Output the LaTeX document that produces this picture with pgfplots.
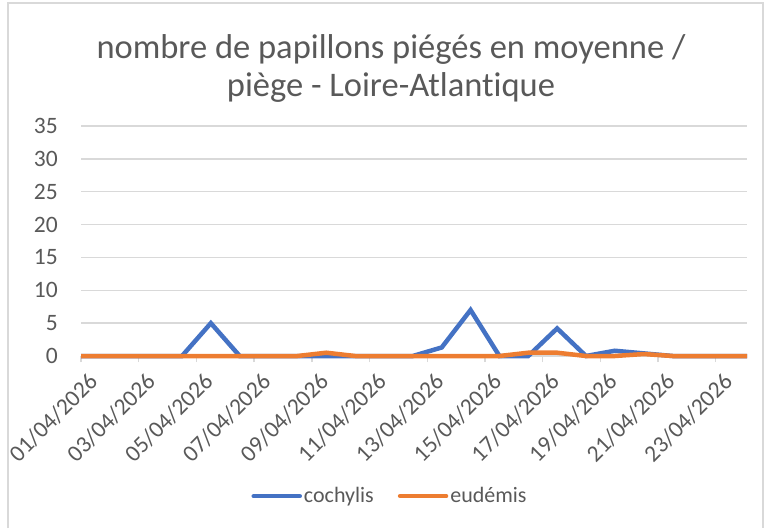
\documentclass[border=0pt]{standalone}
\usepackage{fontspec}
\setmainfont{Carlito}[Ligatures={NoCommon}]
\usepackage{pgfplots}
\pgfplotsset{compat=1.18}
\definecolor{cblue}{RGB}{68,114,196}
\definecolor{corange}{RGB}{237,125,49}
\definecolor{textgray}{RGB}{89,89,89}
\definecolor{gridgray}{RGB}{217,217,217}
\begin{document}
\begin{tikzpicture}
\path[use as bounding box] (0pt,0pt) rectangle (767pt,528pt);
\draw[gridgray, line width=2pt] (8pt,0pt) -- (8pt,525pt) -- (763pt,525pt) -- (763pt,0pt);
\node[font=\fontsize{34.5}{38}\selectfont, text=textgray, align=center] at (391pt,460pt)
  {nombre de papillons piégés en moyenne /\\piège - Loire-Atlantique};
\begin{axis}[
  at={(81pt,172pt)}, anchor=south west,
  scale only axis, width=666pt, height=230pt,
  xmin=0, xmax=23.08, ymin=0, ymax=35,
  ytick={0,5,...,35},
  xtick={0,2,...,22},
  xticklabels={01/04/2026,03/04/2026,05/04/2026,07/04/2026,09/04/2026,11/04/2026,13/04/2026,15/04/2026,17/04/2026,19/04/2026,21/04/2026,23/04/2026},
  /pgf/number format/assume math mode=true,
  axis x line*=bottom, axis y line*=left,
  x axis line style={draw=gridgray, line width=1.3pt},
  y axis line style={draw=none},
  ymajorgrids, grid style={draw=gridgray, line width=1.3pt},
  tick align=outside, major tick length=6pt,
  xtick style={draw=gridgray, line width=1.3pt},
  ytick style={draw=none},
  yticklabel style={font=\fontsize{23.5}{26}\selectfont, text=textgray, anchor=east, inner sep=0pt, xshift=-17pt},
  xticklabel style={font=\fontsize{23.5}{26}\selectfont, text=textgray, xshift=14pt, yshift=-14pt, rotate=45, anchor=east, inner sep=2pt},
  legend style={at={(0.464,-0.609)}, anchor=center, legend columns=2, draw=none, fill=none,
    font=\fontsize{22}{26}\selectfont, text=textgray, inner sep=0pt,
    /tikz/every even column/.append style={column sep=22pt}},
  legend image code/.code={\draw[#1, line width=4.5pt, line cap=round] (0pt,0pt) -- (46pt,0pt);},
  no markers, clip=false,
]
\addplot[cblue, line width=4.5pt, line join=miter] coordinates {
(0,0) (0.5,0) (1.5,0) (2.5,0) (3.5,0) (4.5,5) (5.5,0) (6.5,0) (7.5,0) (8.5,0) (9.5,0) (10.5,0) (11.5,0) (12.5,1.3) (13.5,7) (14.5,0) (15.5,0) (16.5,4.2) (17.5,0) (18.5,0.8) (19.5,0.4) (20.5,0) (21.5,0) (22.5,0) (23.08,0)
};
\addlegendentry{cochylis}
\addplot[corange, line width=4.5pt, line join=round] coordinates {
(0,0) (0.5,0) (1.5,0) (2.5,0) (3.5,0) (4.5,0) (5.5,0) (6.5,0) (7.5,0) (8.5,0.5) (9.5,0) (10.5,0) (11.5,0) (12.5,0) (13.5,0) (14.5,0) (15.5,0.5) (16.5,0.5) (17.5,0) (18.5,0) (19.5,0.3) (20.5,0) (21.5,0) (22.5,0) (23.08,0)
};
\addlegendentry{eudémis}
\end{axis}
\end{tikzpicture}
\end{document}
